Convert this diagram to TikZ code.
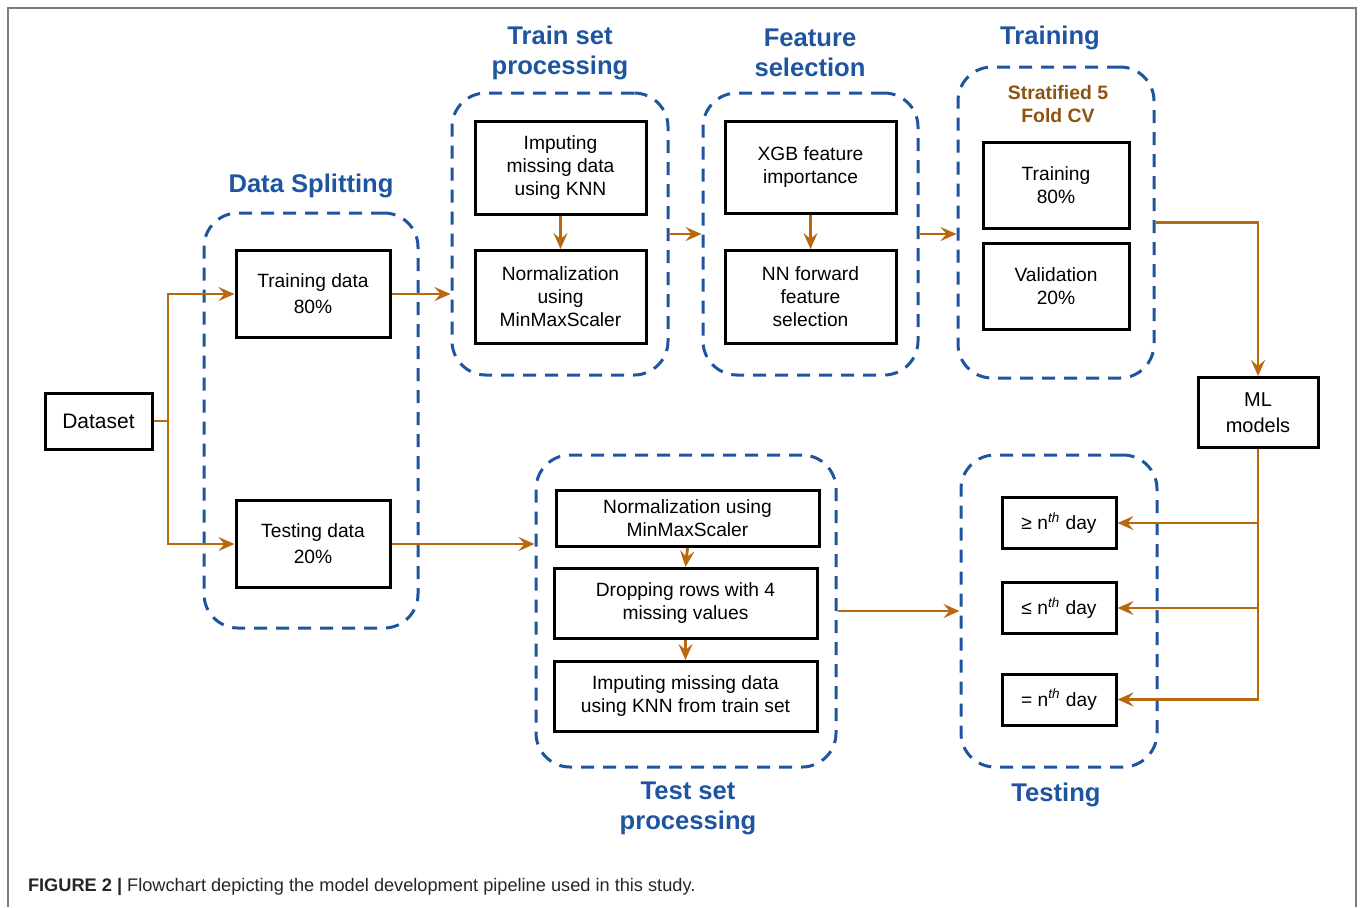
\documentclass[tikz,border=0pt]{standalone}
\usepackage{fontspec}
\setmainfont{Liberation Sans}
\usetikzlibrary{arrows.meta}
\definecolor{groupblue}{RGB}{31,85,160}
\definecolor{flowc}{RGB}{184,104,14}
\definecolor{cvbrown}{RGB}{140,84,16}
\definecolor{framec}{RGB}{125,125,125}

\begin{document}
\begin{tikzpicture}[x=0.5pt,y=-0.5pt]
	\tikzstyle{box} = [draw=black,line width=1.5pt,align=center,inner sep=2pt,font=\fontsize{9.6}{11.5}\selectfont]
	\tikzstyle{group} = [draw=groupblue,line width=1.5pt,dash pattern=on 6.5pt off 4.5pt,rounded corners=17pt]
	\tikzstyle{title} = [text=groupblue,align=center,font=\fontsize{12.8}{15}\selectfont\bfseries]
	\tikzstyle{flow} = [draw=flowc,line width=1.45pt,-{Stealth[length=8pt,width=7pt,inset=3pt]}]
	\useasboundingbox (0,0) rectangle (1363,907);
	% frame and caption
	\draw[framec,line width=0.8pt] (8,907) -- (8,8) -- (1356,8) -- (1356,907);
	\node[anchor=west,text=black!85,font=\fontsize{9.1}{10}\selectfont] (caption) at (21,887)
		{\textbf{FIGURE 2 |} Flowchart depicting the model development pipeline used in this study.};
	% dataset
	\node[box,minimum width=53.5pt,minimum height=28pt,font=\fontsize{10.5}{12}\selectfont] (dataset) at (98.5,421) {Dataset};
	\coordinate (split) at (168,421);
	% data splitting
	\node[title] at (311,186) {Data Splitting};
	\node[group,minimum width=107pt,minimum height=207.5pt] (dsplit) at (311,420.5) {};
	\node[box,minimum width=77pt,minimum height=43.5pt,font=\fontsize{9.6}{13}\selectfont] (trdata) at (313,294) {Training data\\80\%};
	\node[box,minimum width=77pt,minimum height=43.5pt,font=\fontsize{9.6}{13}\selectfont] (tedata) at (313,544) {Testing data\\20\%};
	% train set processing
	\node[title] at (560,53) {Train set\\processing};
	\node[group,minimum width=108pt,minimum height=141pt] (trainp) at (560,234) {};
	\node[box,minimum width=85.5pt,minimum height=46.5pt] (imptr) at (560.5,168) {Imputing\\missing data\\using KNN};
	\node[box,minimum width=85.5pt,minimum height=46.5pt] (normtr) at (560.5,297) {Normalization\\using\\MinMaxScaler};
	% feature selection
	\node[title] at (810,53) {Feature\\selection};
	\node[group,minimum width=107.5pt,minimum height=141pt] (feat) at (810.5,234) {};
	\node[box,minimum width=85.5pt,minimum height=46pt] (xgb) at (810.5,167.5) {XGB feature\\importance};
	\node[box,minimum width=85.5pt,minimum height=46.5pt] (nnfs) at (810.5,297) {NN forward\\feature\\selection};
	% training
	\node[title] at (1050,38) {Training};
	\node[group,minimum width=98pt,minimum height=155.5pt] (train) at (1056,222.5) {};
	\node[text=cvbrown,align=center,font=\fontsize{9.7}{11.5}\selectfont\bfseries] (cv) at (1058,104.5) {Stratified 5\\Fold CV};
	\node[box,minimum width=73pt,minimum height=43pt] (trfold) at (1056,185.5) {Training\\80\%};
	\node[box,minimum width=73pt,minimum height=43pt] (valfold) at (1056,286.5) {Validation\\20\%};
	% ml models
	\node[box,minimum width=60pt,minimum height=35pt,font=\fontsize{10}{13}\selectfont] (ml) at (1258,412.5) {ML\\models};
	% test set processing
	\node[title] at (688,808) {Test set\\processing};
	\node[group,minimum width=150pt,minimum height=156pt] (testp) at (686,611) {};
	\node[box,minimum width=131.5pt,minimum height=28pt] (normte) at (687.5,518.5) {Normalization using\\MinMaxScaler};
	\node[box,minimum width=131.5pt,minimum height=35pt] (dropte) at (685.5,603.5) {Dropping rows with 4\\missing values};
	\node[box,minimum width=131.5pt,minimum height=35pt] (impte) at (685.5,696.5) {Imputing missing data\\using KNN from train set};
	% testing
	\node[title] at (1056,795) {Testing};
	\node[group,minimum width=98pt,minimum height=156pt] (testing) at (1059,611) {};
	\foreach \name/\sym/\y in {ge/≥/523,le/≤/608,eq/=/699.5}
		\node[box,minimum width=57pt,minimum height=25.5pt] (\name) at (1059,\y) {\sym\ n\textsuperscript{\itshape th} day};
	% connections
	\draw[flow] (dataset.east) -- (split) |- (trdata.west);
	\draw[flow] (split) |- (tedata.west);
	\draw[flow] (trdata.east) -- (trdata.east -| trainp.west);
	\draw[flow] (imptr.south) -- (normtr.north);
	\draw[flow] (trainp.east) -- (feat.west);
	\draw[flow] (xgb.south) -- (nnfs.north);
	\draw[flow] (feat.east) -- (feat.east -| train.west);
	\draw[flow] (train.east) -| (ml.north);
	\foreach \name in {ge,le,eq}
		\draw[flow] (ml.south) |- (\name.east);
	\draw[flow] (tedata.east) -- (tedata.east -| testp.west);
	\draw[flow] (normte.south) -- (dropte.north);
	\draw[flow] (dropte.south) -- (impte.north);
	\draw[flow] (testp.east) -- (testing.west);
\end{tikzpicture}
\end{document}
